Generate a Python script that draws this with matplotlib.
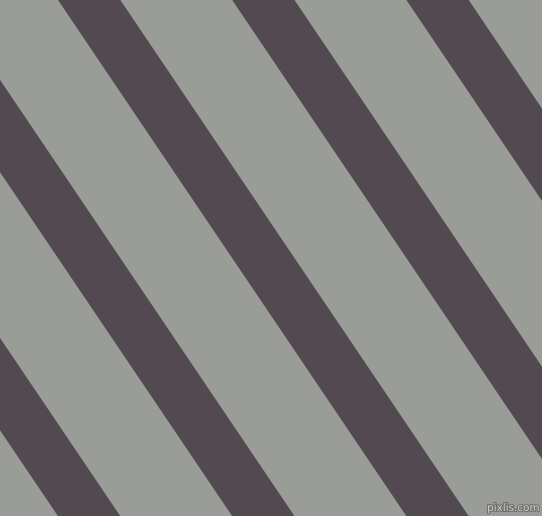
import matplotlib
matplotlib.use('Agg')
from matplotlib import pyplot as plt
import matplotlib.patheffects as pe

# stripe left edges along the top row (pixels), shared width and slant
stripe_x0 = [-290.4, -116.2, 58.0, 232.2, 406.4]
stripe_w = 62.3
slant = 0.675  # dx per dy

W, H = 542, 516
bg = '#999c97'
dark = '#524a50'

fig = plt.figure(figsize=(W / 100, H / 100), dpi=100)
ax = fig.add_axes([0, 0, 1, 1])
ax.set_facecolor(bg)
fig.patch.set_facecolor(bg)

for x0 in stripe_x0:
    xs = [x0, x0 + stripe_w, x0 + stripe_w + slant * H, x0 + slant * H]
    ys = [0, 0, H, H]
    ax.fill(xs, ys, color=dark, lw=0)

ax.text(W - 2, H - 3, 'pixlis.com', ha='right', va='bottom', fontsize=7.5,
        color='#cfcfcf',
        path_effects=[pe.withStroke(linewidth=1.5, foreground='#6e6e6e')])

ax.set_xlim(0, W)
ax.set_ylim(H, 0)
ax.axis('off')

plt.savefig('out.png', dpi=100, facecolor=bg)
